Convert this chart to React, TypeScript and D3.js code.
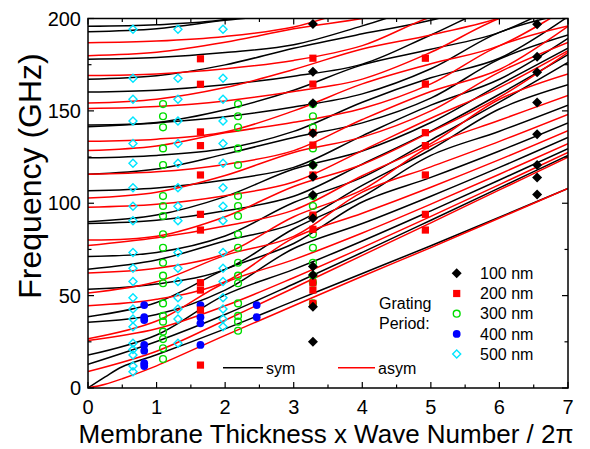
import React from 'react';
import * as d3 from 'd3';

const W = 590;
const H = 449;

const xTicks = [0, 1, 2, 3, 4, 5, 6, 7];
const xMinor = [0.5, 1.5, 2.5, 3.5, 4.5, 5.5, 6.5];
const yTicks = [0, 50, 100, 150, 200];
const yMinor = [25, 75, 125, 175];

// dispersion branches sampled at these X values
const branchX = [0, 1, 2, 3, 4, 5, 6, 7];
const fundX = [0, 0.25, 0.5, 1, 2, 3, 4, 5, 6, 7];
const s0 = [0, 6, 11.5, 18, 32, 47, 62, 77, 92.5, 108];
const a0 = [0, 2, 5, 12, 28.5, 44.5, 60.5, 76, 92, 108];

const symBranches = [
  [12.85, 25.2, 39.8, 56.3, 73.4, 90.8, 108.3, 125.9],
  [17.8, 28.7, 50.4, 64.2, 79.6, 95.9, 112.6, 129.6],
  [35.6, 39.8, 53, 75.5, 89, 103.8, 119.4, 135.6],
  [38.6, 46.3, 64.2, 78.2, 100.7, 114, 128.3, 143.5],
  [53.4, 56.3, 64.2, 86.2, 103.6, 125.9, 139, 153.1],
  [64.3, 69.3, 79.6, 89, 109.7, 129.1, 151, 164.1],
  [71.2, 73.4, 82.3, 100.4, 114, 134.2, 154.7, 176.2],
  [89, 90.8, 95.9, 103.8, 121.2, 139, 159, 180.4],
  [90, 93.6, 103.6, 118.5, 128.3, 143.7, 164.1, 184],
  [106.8, 108.3, 112.6, 119.4, 136.5, 153.1, 167.1, 189.2],
  [115.7, 118.5, 126.6, 135.6, 143.5, 156.9, 178, 191.1],
  [124.6, 125.9, 129.6, 138.9, 154.7, 167.9, 178.5, 201],
  [141.4, 143.5, 146.8, 152.1, 159.2, 172.8, 192.5, 202.9],
  [142.4, 143.7, 150.6, 161.2, 174.9, 183.3, 192.5, 210],
  [160.2, 161.2, 164.1, 168.8, 175.3, 191.1, 207.5, 215],
  [167.1, 169, 174.9, 183.9, 191.7, 199, 210, 220],
  [178, 178.9, 181.6, 185.8, 196, 207.5, 215, 225],
  [192.8, 194.5, 199, 202.9, 208, 215, 225, 235],
  [195.8, 196.6, 199.4, 207.3, 212, 220, 230, 240],
];

const asymBranches = [
  [8.9, 19.9, 36.7, 54.1, 71.8, 89.4, 107.2, 124.9],
  [25.7, 32.1, 44.5, 59.7, 76, 92.9, 110.1, 127.5],
  [26.7, 36.3, 57, 69.5, 83.9, 99.5, 115.7, 132.3],
  [44.5, 48, 57.5, 81.3, 94.6, 108.7, 123.6, 139.3],
  [51.4, 57.5, 71.8, 82.1, 106, 119.7, 133.5, 148.1],
  [62.3, 64.8, 72.7, 92.7, 107.2, 131, 144.9, 158.4],
  [77.1, 81.3, 87.7, 96.3, 114.9, 132.3, 156.3, 170],
  [80.1, 82.1, 92.7, 109.1, 121, 138.6, 157.4, 181.7],
  [97.9, 99.5, 104.1, 111.5, 128.5, 146, 162.6, 182.6],
  [102.8, 106, 115, 127.5, 135.8, 150, 171, 187.1],
  [115.7, 117, 121, 128.5, 145.3, 160.5, 172.4, 195.8],
  [128.5, 131, 138.1, 143.8, 151.3, 164.6, 185.2, 196],
  [133.5, 134.7, 138.6, 150, 164.6, 175.5, 185.3, 206],
  [151.3, 152.4, 155.4, 160.5, 167.2, 181.7, 200, 210],
  [154.2, 156.3, 162.6, 172.4, 183.5, 191.1, 200.3, 215],
  [169.1, 170, 172.8, 177.3, 185.3, 200.8, 210, 220],
  [179.9, 181.7, 187.1, 194.4, 200, 207, 215, 225],
  [186.9, 187.8, 190.3, 195.4, 206, 212, 220, 230],
];

// measured points: x positions per grating period and frequencies per column
const p100X = [3.28, 6.55];
const p100F = [
  [197.0, 171.2, 154.1, 137.9, 120.7, 114.4, 104.5, 91.9, 65.7, 61.2, 44.0, 25.1],
  [196.9, 179.3, 170.9, 154.6, 137.3, 120.7, 114.0, 104.8],
];
const p200X = [1.64, 3.28, 4.92];
const p200F = [
  [178.2, 164.4, 138.6, 131.2, 115.3, 94.0, 85.5, 57.0, 53.0, 42.2, 12.4],
  [178.5, 164.5, 138.2, 131.5, 115.3, 93.6, 85.9, 57.0, 53.0, 45.8],
  [178.5, 164.5, 138.2, 131.2, 115.3, 94.0, 85.5],
];
const p300X = [1.094, 2.188, 3.28];
const p300F = [
  [153.7, 147.1, 141.1, 129.7, 120.7, 103.9, 98.5, 93.1, 83.2, 75.9, 67.8, 60.8, 56.7, 45.8, 39.0, 35.9, 30.5, 26.5, 21.5, 15.7],
  [153.7, 147.1, 141.1, 129.7, 120.7, 103.9, 98.5, 93.1, 83.2, 75.9, 67.8, 60.8, 56.7, 45.8, 39.0, 35.9, 31.0],
  [153.7, 147.1, 141.1, 129.7, 120.7, 103.9, 98.5, 93.1, 83.2, 75.9, 67.8, 60.8, 57.0, 45.8],
];
const p400X = [0.82, 1.64, 2.46];
const p400F = [
  [44.9, 38.3, 36.8, 23.3, 20.2, 13.4, 11.9],
  [44.9, 38.3, 35.0, 23.3],
  [44.9, 38.3],
];
const p500X = [0.656, 1.312, 1.969];
const p500F = [
  [194.2, 167.6, 156.3, 144.5, 132.4, 121.6, 108.4, 98.4, 90.5, 73.4, 64.8, 57.6, 48.9, 42.8, 37.4, 33.2, 24.2, 20.9, 17.9, 11.9, 8.8],
  [194.2, 167.6, 156.3, 144.5, 132.4, 121.6, 108.4, 98.4, 90.5, 73.4, 64.8, 57.6, 48.9, 42.8, 37.4, 24.2],
  [194.2, 167.6, 156.3, 144.5, 132.4, 121.6, 108.4, 98.4, 90.5, 73.4, 64.8, 57.6, 48.9, 42.8, 37.4, 33.2],
];

const legendLabels = ['100 nm', '200 nm', '300 nm', '400 nm', '500 nm'];

const FONT = "'Liberation Sans', Arial, Helvetica, sans-serif";

const L = 88, R = 568, T = 18.5, B = 388;

export default function App() {
  const x = d3.scaleLinear().domain([0, 7]).range([L, R]);
  const y = d3.scaleLinear().domain([0, 200]).range([B, T]);
  const line = d3
    .line<[number, number]>()
    .x((d) => x(d[0]))
    .y((d) => y(d[1]))
    .curve(d3.curveCatmullRom.alpha(0.5));

  const toPts = (xs: number[], fs: number[]) => xs.map((v, i) => [v, fs[i]] as [number, number]);

  const diamond = (cx: number, cy: number, r: number) =>
    `M${cx},${cy - r}L${cx + r},${cy}L${cx},${cy + r}L${cx - r},${cy}Z`;

  const marker = (kind: number, cx: number, cy: number, key: string) => {
    if (kind === 0) return <path key={key} d={diamond(cx, cy, 5)} fill="#000" />;
    if (kind === 1) return <rect key={key} x={cx - 3.6} y={cy - 3.6} width={7.2} height={7.2} fill="#ff0000" />;
    if (kind === 2) return <circle key={key} cx={cx} cy={cy} r={3.4} fill="none" stroke="#00dd00" strokeWidth={1.4} />;
    if (kind === 3) return <circle key={key} cx={cx} cy={cy} r={3.9} fill="#0000ff" />;
    return <path key={key} d={diamond(cx, cy, 4)} fill="none" stroke="#00e5ff" strokeWidth={1.4} />;
  };

  const groups: [number[], number[][]][] = [
    [p100X, p100F],
    [p200X, p200F],
    [p300X, p300F],
    [p400X, p400F],
    [p500X, p500F],
  ];
  const drawOrder = [4, 3, 2, 1, 0];

  return (
    <svg width={W} height={H} style={{ position: 'absolute', left: 0, top: 0, background: '#fff' }} fontFamily={FONT}>
      <defs>
        <clipPath id="plotclip">
          <rect x={L} y={T} width={R - L} height={B - T} />
        </clipPath>
      </defs>
      <rect x={0} y={0} width={W} height={H} fill="#fff" />
      <g clipPath="url(#plotclip)" fill="none" strokeWidth={1.5}>
        <path d={line(toPts(fundX, s0)) || ''} stroke="#000" />
        {symBranches.map((b, i) => (
          <path key={'s' + i} d={line(toPts(branchX, b)) || ''} stroke="#000" />
        ))}
        <path d={line(toPts(fundX, a0)) || ''} stroke="#ff0000" />
        {asymBranches.map((b, i) => (
          <path key={'a' + i} d={line(toPts(branchX, b)) || ''} stroke="#ff0000" />
        ))}
      </g>
      <g>
        {drawOrder.map((k) =>
          groups[k][0].map((xv, ci) =>
            groups[k][1][ci].map((f, j) => marker(k, x(xv), y(f), `m${k}-${ci}-${j}`))
          )
        )}
      </g>
      {/* frame */}
      <rect x={L} y={T} width={R - L} height={B - T} fill="none" stroke="#000" strokeWidth={1.5} />
      {/* ticks */}
      <g stroke="#000" strokeWidth={1.2}>
        {xTicks.map((t) => (
          <g key={'xt' + t}>
            <line x1={x(t)} x2={x(t)} y1={B} y2={B - 6} />
            <line x1={x(t)} x2={x(t)} y1={T} y2={T + 6} />
          </g>
        ))}
        {xMinor.map((t) => (
          <g key={'xm' + t}>
            <line x1={x(t)} x2={x(t)} y1={B} y2={B - 3.5} />
            <line x1={x(t)} x2={x(t)} y1={T} y2={T + 3.5} />
          </g>
        ))}
        {yTicks.map((t) => (
          <g key={'yt' + t}>
            <line x1={L} x2={L + 6} y1={y(t)} y2={y(t)} />
            <line x1={R} x2={R - 6} y1={y(t)} y2={y(t)} />
          </g>
        ))}
        {yMinor.map((t) => (
          <g key={'ym' + t}>
            <line x1={L} x2={L + 3.5} y1={y(t)} y2={y(t)} />
            <line x1={R} x2={R - 3.5} y1={y(t)} y2={y(t)} />
          </g>
        ))}
      </g>
      {/* tick labels */}
      <g fontSize={20} fill="#000">
        {xTicks.map((t) => (
          <text key={'xl' + t} x={x(t)} y={414} textAnchor="middle">
            {t}
          </text>
        ))}
        {yTicks.map((t) => (
          <text key={'yl' + t} x={81} y={y(t) + 7} textAnchor="end">
            {t}
          </text>
        ))}
      </g>
      <text x={326} y={443} textAnchor="middle" fontSize={26}>
        Membrane Thickness x Wave Number / 2π
      </text>
      <text transform={`translate(41,${176}) rotate(-90)`} textAnchor="middle" fontSize={32}>
        Frequency (GHz)
      </text>
      {/* line legend */}
      <line x1={223} x2={263} y1={367.7} y2={367.7} stroke="#000" strokeWidth={1.5} />
      <text x={266} y={373.5} fontSize={16}>sym</text>
      <line x1={338} x2={375} y1={367.7} y2={367.7} stroke="#ff0000" strokeWidth={1.5} />
      <text x={378} y={373.5} fontSize={16}>asym</text>
      {/* marker legend */}
      <text x={379} y={309} fontSize={16}>Grating</text>
      <text x={379} y={329} fontSize={16}>Period:</text>
      {legendLabels.map((lab, i) => (
        <g key={'lg' + i}>
          {marker(i, 456.7, 273.3 + i * 20.2, 'lgm' + i)}
          <text x={480} y={279} dy={i * 20.2} fontSize={16}>
            {lab}
          </text>
        </g>
      ))}
    </svg>
  );
}
